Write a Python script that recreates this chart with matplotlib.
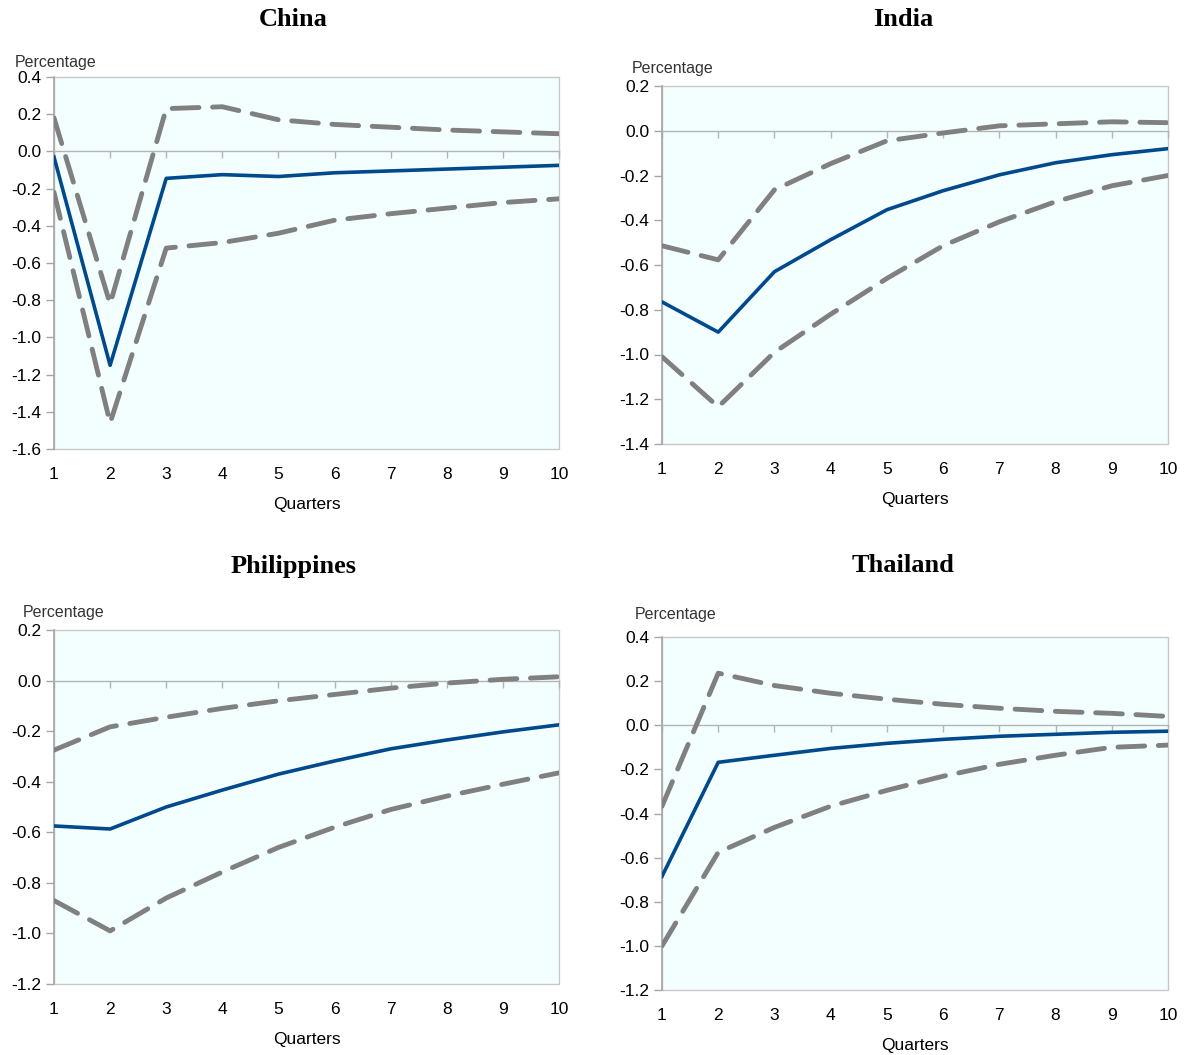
import numpy as np
import matplotlib
matplotlib.use("Agg")
import matplotlib.pyplot as plt
from matplotlib.patches import Rectangle
from matplotlib.ticker import FuncFormatter

quarters = list(range(1, 11))
countries = ["China", "India", "Philippines", "Thailand"]

china_mid = [-0.03, -1.15, -0.145, -0.125, -0.135, -0.115, -0.105, -0.095, -0.085, -0.075]
china_up = [0.18, -0.82, 0.23, 0.24, 0.17, 0.145, 0.13, 0.115, 0.105, 0.095]
china_lo = [-0.22, -1.46, -0.52, -0.49, -0.44, -0.37, -0.335, -0.305, -0.275, -0.255]

india_mid = [-0.765, -0.90, -0.63, -0.487, -0.353, -0.268, -0.197, -0.143, -0.107, -0.08]
india_up = [-0.514, -0.577, -0.264, -0.147, -0.045, -0.01, 0.022, 0.031, 0.04, 0.036]
india_lo = [-1.01, -1.234, -0.99, -0.82, -0.66, -0.514, -0.407, -0.317, -0.246, -0.20]

phil_mid = [-0.575, -0.587, -0.50, -0.433, -0.37, -0.318, -0.27, -0.235, -0.203, -0.175]
phil_up = [-0.275, -0.183, -0.145, -0.11, -0.08, -0.055, -0.03, -0.01, 0.005, 0.015]
phil_lo = [-0.87, -0.99, -0.86, -0.757, -0.66, -0.58, -0.51, -0.457, -0.41, -0.365]

thai_mid = [-0.685, -0.168, -0.136, -0.105, -0.082, -0.064, -0.05, -0.041, -0.032, -0.027]
thai_up = [-0.367, 0.236, 0.18, 0.145, 0.118, 0.095, 0.077, 0.063, 0.054, 0.04]
thai_lo = [-1.0, -0.576, -0.463, -0.367, -0.295, -0.231, -0.177, -0.136, -0.10, -0.09]

y_limits = [(-1.6, 0.4), (-1.4, 0.2), (-1.2, 0.2), (-1.2, 0.4)]

series = [
    (china_mid, china_up, china_lo),
    (india_mid, india_up, india_lo),
    (phil_mid, phil_up, phil_lo),
    (thai_mid, thai_up, thai_lo),
]

W, H = 1186, 1055
# axes boxes in pixels: left, right, top, bottom
boxes = [(54, 559, 77, 449), (662, 1168, 86, 444), (54, 559, 630, 984), (662, 1168, 637, 990)]
title_pos = [(293, 20), (903, 20), (294, 566), (903, 566)]
pct_pos = [(15, 62), (632, 69), (23, 612), (635, 614)]

narrow = ["Liberation Sans Narrow", "Liberation Sans", "DejaVu Sans"]
serif = ["Liberation Serif", "DejaVu Serif"]

blue = "#004a8c"
gray = "#808080"


def fmt(v, pos):
    if abs(v) < 1e-9:
        v = 0.0
    return f"{v:.1f}"


fig = plt.figure(figsize=(W / 100, H / 100), dpi=100)

for i, name in enumerate(countries):
    l, r, t, b = boxes[i]
    ax = fig.add_axes([l / W, 1 - b / H, (r - l) / W, (b - t) / H])
    ax.set_facecolor("#f3ffff")
    mid, up, lo = series[i]

    for s in (up, lo):
        ln, = ax.plot(quarters, s, color=gray, lw=3.5, dash_capstyle="round", zorder=3)
        ln.set_dashes([5.5, 2.8])
    ax.plot(quarters, mid, color=blue, lw=2.6, zorder=4)

    ax.set_xlim(1, 10)
    ax.set_ylim(*y_limits[i])
    ax.set_yticks(np.arange(y_limits[i][0], y_limits[i][1] + 0.01, 0.2))
    ax.yaxis.set_major_formatter(FuncFormatter(fmt))
    ax.set_xticks(quarters)

    for side in ("right", "bottom"):
        ax.spines[side].set_visible(False)
    ax.spines["left"].set_color("#a6a6a6")
    ax.spines["left"].set_linewidth(1.2)
    ax.spines["top"].set_position(("data", 0))
    ax.spines["top"].set_color("#b4b4b4")
    ax.spines["top"].set_linewidth(1.0)
    ax.add_patch(Rectangle((0, 0), 1, 1, transform=ax.transAxes, fill=False,
                           edgecolor="#c8c8c8", lw=1.0, zorder=1, clip_on=False))

    ax.tick_params(axis="x", bottom=False, top=True, labeltop=False, labelbottom=True,
                   direction="in", length=5, width=1, color="#b4b4b4", pad=13, labelsize=12.5)
    ax.tick_params(axis="y", direction="out", length=6, width=1, color="#a6a6a6",
                   pad=3, labelsize=12.5)
    for lab in ax.get_xticklabels() + ax.get_yticklabels():
        lab.set_family(narrow)

    ax.set_xlabel("Quarters", fontsize=12.5, family=narrow, labelpad=11)

    tx, ty = title_pos[i]
    fig.text(tx / W, 1 - ty / H, name, ha="center", va="center",
             fontsize=19, fontweight="bold", family=serif)
    px, py = pct_pos[i]
    fig.text(px / W, 1 - py / H, "Percentage", ha="left", va="center",
             fontsize=11.5, family=narrow, color="#333333")

fig.savefig("out.png", dpi=100)
